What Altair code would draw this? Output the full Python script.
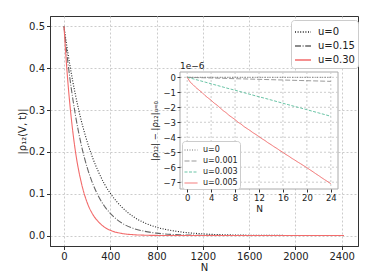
import altair as alt
import pandas as pd

# ---------------- main panel data ----------------
N_main = [0, 25, 50, 75, 100, 150, 200, 250, 300, 350, 400, 500, 600, 700, 800,
          1000, 1200, 1400, 1600, 2000, 2420]
rho_u0 = [0.5, 0.452, 0.409, 0.370, 0.335, 0.274, 0.225, 0.184, 0.151, 0.123, 0.101,
          0.068, 0.045, 0.030, 0.020, 0.009, 0.004, 0.0018, 0.0008, 0.0002, 0.0]
rho_u015 = [0.5, 0.435, 0.378, 0.329, 0.286, 0.216, 0.163, 0.123, 0.093, 0.070, 0.053,
            0.030, 0.017, 0.010, 0.0057, 0.0018, 0.0006, 0.0002, 0.0001, 0.0, 0.0]
rho_u030 = [0.5, 0.397, 0.316, 0.251, 0.199, 0.126, 0.079, 0.050, 0.032, 0.020, 0.0126,
            0.005, 0.002, 0.0008, 0.0003, 0.0001, 0.0, 0.0, 0.0, 0.0, 0.0]
main_labels = ["u=0", "u=0.15", "u=0.30"]
main_x_ticks = [0, 400, 800, 1200, 1600, 2000, 2400]
main_y_ticks = [0.0, 0.1, 0.2, 0.3, 0.4, 0.5]

# ---------------- inset data (units of 1e-6) ----------------
N_in = list(range(25))
d_u0 = [0.0, 0.0, 0.0, 0.0, 0.0, 0.0, 0.0, 0.0, 0.0, 0.0, 0.0, 0.0, 0.0,
        0.0, 0.0, 0.0, 0.0, 0.0, 0.0, 0.0, 0.0, 0.0, 0.0, 0.0, 0.0]
d_u0001 = [0.0, -0.011, -0.022, -0.034, -0.045, -0.056, -0.067, -0.079, -0.09, -0.101,
           -0.112, -0.124, -0.135, -0.146, -0.157, -0.169, -0.18, -0.191, -0.202, -0.214,
           -0.225, -0.236, -0.247, -0.259, -0.27]
d_u0003 = [0.0, -0.10, -0.21, -0.32, -0.43, -0.54, -0.65, -0.76, -0.86, -0.97, -1.08,
           -1.19, -1.30, -1.40, -1.51, -1.62, -1.73, -1.84, -1.95, -2.05, -2.16, -2.27,
           -2.38, -2.49, -2.60]
N_in_red = [0, 0.5, 1, 1.5, 2, 2.5, 3, 3.5, 4, 4.5, 5, 5.5, 6, 6.5, 7, 7.5, 8, 8.5, 9,
            9.5, 10, 10.5, 11, 11.5, 12, 12.5, 13, 13.5, 14, 14.5, 15, 15.5, 16, 16.5,
            17, 17.5, 18, 18.5, 19, 19.5, 20, 20.5, 21, 21.5, 22, 22.5, 23, 23.5, 24]
d_u0005 = [0.0, -0.32, -0.50, -0.70, -0.86, -1.02, -1.22, -1.38, -1.53, -1.72, -1.86,
           -2.04, -2.22, -2.36, -2.54, -2.68, -2.82, -3.00, -3.12, -3.29, -3.42, -3.55,
           -3.70, -3.82, -3.96, -4.10, -4.22, -4.37, -4.49, -4.63, -4.75, -4.89, -5.01,
           -5.15, -5.27, -5.41, -5.53, -5.66, -5.78, -5.91, -6.03, -6.17, -6.30, -6.44,
           -6.57, -6.71, -6.84, -6.97, -7.10]
inset_labels = ["u=0", "u=0.001", "u=0.003", "u=0.005"]
inset_x_ticks = [0, 4, 8, 12, 16, 20, 24]
inset_y_ticks = [0, -1, -2, -3, -4, -5, -6, -7]

# ---------------- tables ----------------
df_main = pd.concat([
    pd.DataFrame({"N": N_main, "rho": rho_u0, "s": main_labels[0]}),
    pd.DataFrame({"N": N_main, "rho": rho_u015, "s": main_labels[1]}),
    pd.DataFrame({"N": N_main, "rho": rho_u030, "s": main_labels[2]}),
])
df_in = pd.concat([
    pd.DataFrame({"n": N_in, "d": d_u0, "si": inset_labels[0]}),
    pd.DataFrame({"n": N_in, "d": d_u0001, "si": inset_labels[1]}),
    pd.DataFrame({"n": N_in, "d": d_u0003, "si": inset_labels[2]}),
    pd.DataFrame({"n": N_in_red, "d": d_u0005, "si": inset_labels[3]}),
])
df_gx = pd.DataFrame({"gx": inset_x_ticks})
df_gy = pd.DataFrame({"gy": inset_y_ticks})
df_one = pd.DataFrame({"k": [0]})

FONT = "DejaVu Sans"
W, H = 308, 230
GRID = "#cccccc"

# ---------------- main panel ----------------
xs = alt.Scale(domain=[-121, 2541], nice=False, zero=False)
ys = alt.Scale(domain=[-0.025, 0.525], nice=False, zero=False)
main_leg = alt.Legend(title=None, orient="none", legendX=241, legendY=4,
                      fillColor="white", strokeColor="#cccccc", cornerRadius=3,
                      padding=3, labelFontSize=10, symbolType="stroke", symbolSize=256,
                      symbolStrokeWidth=1.4, rowPadding=-3, labelOffset=6)
main = alt.Chart(df_main).mark_line(strokeWidth=1.1, interpolate="monotone").encode(
    x=alt.X("N:Q", scale=xs, axis=alt.Axis(values=main_x_ticks, format="d", title="N",
                                           grid=True, gridColor=GRID, gridDash=[2, 2],
                                           tickSize=3.5, labelPadding=2, titlePadding=1,
                                           zindex=0)),
    y=alt.Y("rho:Q", scale=ys, axis=alt.Axis(values=main_y_ticks, format=".1f",
                                             title="|ρ₁₂(V, t)|", grid=True,
                                             gridColor=GRID, gridDash=[2, 2],
                                             tickSize=3.5, labelPadding=2,
                                             titlePadding=1, zindex=0)),
    color=alt.Color("s:N", scale=alt.Scale(domain=main_labels,
                                           range=["#222222", "#666666", "#f26b6b"]),
                    legend=main_leg),
    strokeDash=alt.StrokeDash("s:N", scale=alt.Scale(domain=main_labels,
                                                     range=[[1, 1.6], [6, 1.6, 1, 1.6], [1, 0]]),
                              legend=main_leg),
)

# ---------------- inset panel ----------------
IX0, IX1, IY0, IY1 = 130, 288, 56, 173
ixs = alt.Scale(domain=[-1.2, 25.2], range=[IX0, IX1], nice=False, zero=False)
iys = alt.Scale(domain=[-7.455, 0.355], range=[IY1, IY0], nice=False, zero=False)
ix_axis = alt.Axis(orient="bottom", offset=IY1 - H, values=inset_x_ticks, format="d",
                   title="N", grid=False, domain=False, tickSize=3, labelFontSize=8.5,
                   labelPadding=1.5, titleFontSize=9, titlePadding=2, zindex=1)
iy_axis = alt.Axis(orient="left", offset=-IX0, values=inset_y_ticks, format="d",
                   title="|ρ₁₂| − |ρ₁₂|ᵤ₌₀", grid=False, domain=False, tickSize=3,
                   labelFontSize=8.5, labelPadding=1.5, titleFontSize=8.5,
                   titlePadding=3, zindex=1)

bg = alt.Chart(df_one).mark_rect(fill="white", stroke="#aaaaaa", strokeWidth=1).encode(
    x=alt.XDatum(-1.2, scale=ixs, axis=ix_axis), x2=alt.datum(25.2),
    y=alt.YDatum(0.355, scale=iys, axis=iy_axis), y2=alt.datum(-7.455),
)
gridx = alt.Chart(df_gx).mark_rule(stroke=GRID, strokeDash=[2, 2], strokeWidth=1).encode(
    x=alt.X("gx:Q", scale=ixs, axis=ix_axis),
    y=alt.YDatum(0.355, scale=iys, axis=iy_axis), y2=alt.datum(-7.455),
)
gridy = alt.Chart(df_gy).mark_rule(stroke=GRID, strokeDash=[2, 2], strokeWidth=1).encode(
    y=alt.Y("gy:Q", scale=iys, axis=iy_axis),
    x=alt.XDatum(-1.2, scale=ixs, axis=ix_axis), x2=alt.datum(25.2),
)
in_leg = alt.Legend(title=None, orient="none", legendX=132, legendY=125,
                    fillColor="white", strokeColor="#cccccc", cornerRadius=3,
                    padding=2, labelFontSize=8, symbolType="stroke", symbolSize=169,
                    symbolStrokeWidth=1.6, rowPadding=-3, labelOffset=5)
in_lines = alt.Chart(df_in).mark_line(interpolate="linear").encode(
    x=alt.X("n:Q", scale=ixs, axis=ix_axis),
    y=alt.Y("d:Q", scale=iys, axis=iy_axis),
    color=alt.Color("si:N", scale=alt.Scale(domain=inset_labels,
                                            range=["#555555", "#8a8a8a", "#5fbf9f", "#f26b6b"]),
                    legend=in_leg),
    strokeDash=alt.StrokeDash("si:N", scale=alt.Scale(domain=inset_labels,
                                                      range=[[1, 1.5], [5, 2], [3, 1.5], [1, 0]]),
                              legend=in_leg),
    strokeWidth=alt.StrokeWidth("si:N", scale=alt.Scale(domain=inset_labels,
                                                        range=[0.8, 1.0, 1.4, 1.0]),
                                legend=None),
)
exp_txt = alt.Chart(df_one).mark_text(align="left", baseline="bottom", dy=-1,
                                      fontSize=9, font=FONT, color="#222222").encode(
    x=alt.XDatum(-1.2, scale=ixs, axis=ix_axis),
    y=alt.YDatum(0.355, scale=iys, axis=iy_axis),
    text=alt.value("1e−6"),
)
inset = alt.layer(bg, gridx, gridy, in_lines, exp_txt)

chart = alt.layer(main, inset).resolve_scale(
    x="independent", y="independent", color="independent",
    strokeDash="independent", strokeWidth="independent",
).resolve_axis(x="independent", y="independent").resolve_legend(
    color="independent", strokeDash="independent",
).properties(
    width=W, height=H,
    autosize=alt.AutoSizeParams(type="none"),
    padding={"left": 42, "top": 8, "right": 8, "bottom": 31},
).configure_view(stroke="#333333", strokeWidth=1).configure_axis(
    labelFont=FONT, titleFont=FONT, labelFontSize=10, titleFontSize=10,
    titleFontWeight="normal", labelColor="#222222", titleColor="#222222",
    tickColor="#333333", domainColor="#333333",
).configure_legend(labelFont=FONT, labelColor="#222222")

chart.save("out.html", embed_options={"renderer": "svg", "actions": False})
